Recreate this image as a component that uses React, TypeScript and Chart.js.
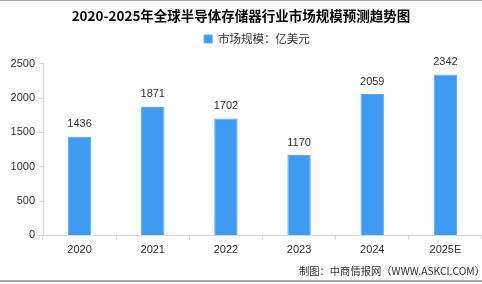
import React, { useEffect, useRef } from "react";
import { Chart, registerables } from "chart.js";

Chart.register(...registerables);

const categories = ["2020", "2021", "2022", "2023", "2024", "2025E"];
const marketSize = [1436, 1871, 1702, 1170, 2059, 2342];
const yTicks = [0, 500, 1000, 1500, 2000, 2500];
const titleText = "2020-2025年全球半导体存储器行业市场规模预测趋势图";
const seriesLabel = "市场规模：亿美元";
const sourceText = "制图：中商情报网（WWW.ASKCI.COM）";

const FONT = "'Liberation Sans', 'Noto Sans CJK SC', sans-serif";
const CJK = "'Noto Sans CJK SC', 'Liberation Sans', sans-serif";

const framePlugin = {
  id: "frame",
  beforeDraw(chart: any) {
    const { ctx, width } = chart;
    ctx.save();
    ctx.fillStyle = "#ffffff";
    ctx.fillRect(0, 0, width, chart.height);
    ctx.fillStyle = "#a6a6a6";
    ctx.fillRect(0, 0, width, 1);
    ctx.fillRect(0, 280, width, 2);
    ctx.restore();
  },
};

const shiftPlugin = {
  id: "shiftBoxes",
  afterLayout(chart: any) {
    if (chart.legend) {
      chart.legend.left += 16;
      chart.legend.right += 16;
    }
    const sub = chart.boxes.find((b: any) => b.options && b.options.text === sourceText);
    if (sub) {
      sub.left += 3;
      sub.right += 3;
    }
  },
};

const labelPlugin = {
  id: "barLabels",
  afterDatasetsDraw(chart: any) {
    const { ctx } = chart;
    const meta = chart.getDatasetMeta(0);
    ctx.save();
    ctx.font = `11px ${FONT}`;
    ctx.fillStyle = "#333333";
    ctx.textAlign = "center";
    ctx.textBaseline = "bottom";
    meta.data.forEach((el: any, i: number) => {
      ctx.fillText(String(marketSize[i]), el.x, el.y - 7);
    });
    ctx.restore();
  },
};

export default function App() {
  const ref = useRef<HTMLCanvasElement>(null);
  useEffect(() => {
    if (!ref.current) return;
    const chart = new Chart(ref.current, {
      type: "bar",
      data: {
        labels: categories,
        datasets: [
          {
            label: seriesLabel,
            data: marketSize,
            backgroundColor: "#3E9BF3",
            borderColor: "#5AAAF5",
            borderWidth: 1,
            categoryPercentage: 1,
            barPercentage: 0.32,
          },
        ],
      },
      options: {
        animation: false,
        responsive: false,
        maintainAspectRatio: false,
        layout: { padding: { left: 0, right: 0, top: 0, bottom: 0 } },
        plugins: {
          title: {
            display: true,
            text: titleText,
            color: "#000000",
            font: { family: CJK, size: 13.5, weight: "bold" },
            padding: { top: 8, bottom: 5 },
          },
          legend: {
            display: true,
            labels: {
              boxWidth: 8,
              boxHeight: 8,
              padding: 4,
              color: "#333333",
              font: { family: CJK, size: 11.5 },
            },
          },
          subtitle: {
            display: true,
            text: sourceText,
            position: "bottom",
            align: "end",
            color: "#333333",
            font: { family: CJK, size: 10.3 },
            padding: { top: 4, bottom: 7 },
          },
          tooltip: { enabled: false },
        },
        scales: {
          x: {
            grid: {
              display: true,
              drawOnChartArea: false,
              tickLength: 4,
              color: "#d9d9d9",
            },
            border: { display: true, color: "#d9d9d9" },
            ticks: {
              color: "#333333",
              font: { family: FONT, size: 11 },
              padding: 4,
            },
          },
          xTop: {
            type: "category",
            position: "top",
            display: true,
            grid: { display: false },
            border: { display: false },
            ticks: { display: false },
            afterFit: (scale: any) => {
              scale.height = 9;
            },
          },
          y: {
            min: 0,
            max: 2500,
            afterBuildTicks: (scale: any) => {
              scale.ticks = yTicks.map((v) => ({ value: v }));
            },
            afterFit: (scale: any) => {
              scale.width = 43;
            },
            grid: {
              display: true,
              drawOnChartArea: false,
              tickLength: 4,
              color: "#d9d9d9",
            },
            border: { display: true, color: "#d9d9d9" },
            ticks: {
              color: "#333333",
              font: { family: FONT, size: 11 },
              padding: 4,
              callback: (v: any) => String(v),
            },
          },
        },
      },
      plugins: [framePlugin, shiftPlugin, labelPlugin],
    });
    return () => chart.destroy();
  }, []);
  return (
    <div style={{ position: "fixed", left: 0, top: 0, width: 482, height: 284 }}>
      <canvas ref={ref} width={482} height={284} style={{ width: 482, height: 284 }} />
    </div>
  );
}
